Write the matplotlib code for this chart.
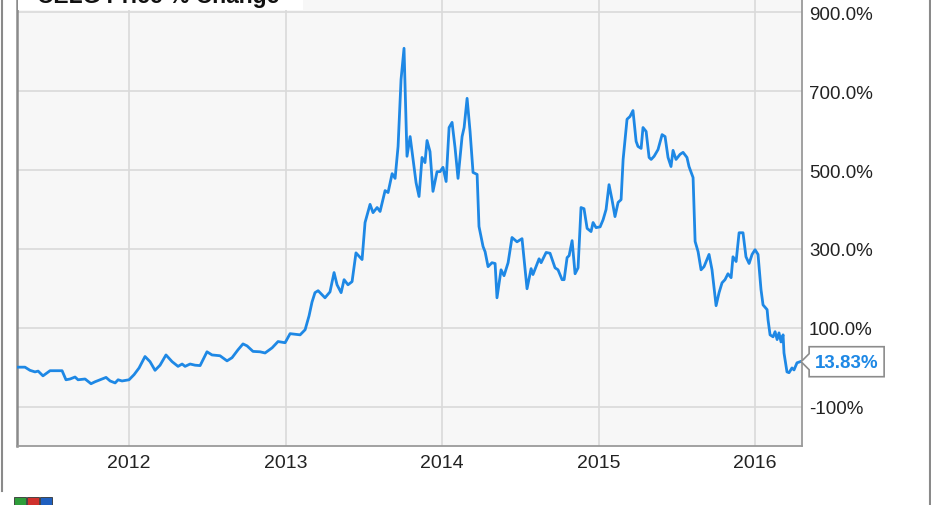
import matplotlib
matplotlib.use("Agg")
import matplotlib.pyplot as plt
from matplotlib.patches import Polygon, Rectangle
from matplotlib.lines import Line2D

plt.rcParams['font.family'] = ['Liberation Sans', 'DejaVu Sans']

# decimal-year positions and % change values
years = [2011.284, 2011.335, 2011.367, 2011.399, 2011.419, 2011.450, 2011.495, 2011.540, 2011.572, 2011.597,
         2011.623, 2011.655, 2011.674, 2011.719, 2011.757, 2011.783, 2011.815, 2011.853, 2011.879, 2011.911,
         2011.930, 2011.955, 2012.000, 2012.032, 2012.064, 2012.102, 2012.134, 2012.166, 2012.198, 2012.236,
         2012.275, 2012.313, 2012.339, 2012.358, 2012.390, 2012.422, 2012.454, 2012.498, 2012.530, 2012.581,
         2012.626, 2012.658, 2012.696, 2012.728, 2012.754, 2012.792, 2012.837, 2012.869, 2012.914, 2012.952,
         2012.997, 2013.029, 2013.093, 2013.125, 2013.150, 2013.169, 2013.188, 2013.208, 2013.252, 2013.284,
         2013.310, 2013.329, 2013.355, 2013.374, 2013.399, 2013.425, 2013.450, 2013.489, 2013.508, 2013.540,
         2013.559, 2013.585, 2013.604, 2013.636, 2013.655, 2013.681, 2013.700, 2013.719, 2013.738, 2013.757,
         2013.776, 2013.796, 2013.815, 2013.834, 2013.853, 2013.872, 2013.891, 2013.904, 2013.923, 2013.942,
         2013.968, 2013.987, 2014.006, 2014.026, 2014.045, 2014.064, 2014.083, 2014.102, 2014.128, 2014.141,
         2014.160, 2014.179, 2014.198, 2014.224, 2014.236, 2014.262, 2014.275, 2014.294, 2014.319, 2014.339,
         2014.351, 2014.377, 2014.396, 2014.422, 2014.447, 2014.479, 2014.511, 2014.543, 2014.569, 2014.581,
         2014.620, 2014.633, 2014.665, 2014.690, 2014.722, 2014.741, 2014.767, 2014.780, 2014.799, 2014.812,
         2014.831, 2014.850, 2014.869, 2014.888, 2014.907, 2014.927, 2014.952, 2014.965, 2014.984, 2015.010,
         2015.029, 2015.048, 2015.067, 2015.086, 2015.105, 2015.125, 2015.144, 2015.157, 2015.182, 2015.201,
         2015.220, 2015.240, 2015.252, 2015.272, 2015.284, 2015.304, 2015.323, 2015.336, 2015.355, 2015.380,
         2015.406, 2015.425, 2015.444, 2015.463, 2015.476, 2015.495, 2015.521, 2015.540, 2015.565, 2015.578,
         2015.604, 2015.617, 2015.636, 2015.655, 2015.674, 2015.693, 2015.706, 2015.725, 2015.751, 2015.770,
         2015.789, 2015.808, 2015.827, 2015.847, 2015.859, 2015.879, 2015.898, 2015.923, 2015.942, 2015.962,
         2015.981, 2016.000, 2016.019, 2016.038, 2016.051, 2016.077, 2016.083, 2016.096, 2016.115, 2016.128,
         2016.141, 2016.153, 2016.166, 2016.179, 2016.185, 2016.204, 2016.217, 2016.236, 2016.249, 2016.268,
         2016.288]
pct_change = [0, 0, -8, -12, -10, -22, -9, -9, -9, -32,
              -30, -25, -32, -30, -42, -37, -32, -26, -35, -40,
              -32, -35, -32, -19, -2, 27, 14, -8, 5, 31,
              14, 2, 8, 2, 8, 5, 4, 39, 31, 29,
              16, 24, 44, 59, 54, 40, 39, 36, 49, 65,
              62, 85, 82, 95, 130, 165, 189, 194, 176, 191,
              240, 209, 189, 222, 209, 217, 290, 273, 367, 413,
              392, 405, 395, 448, 443, 491, 479, 560, 730, 809,
              535, 585, 527, 468, 433, 532, 519, 575, 547, 446,
              496, 496, 507, 471, 608, 621, 557, 479, 585, 608,
              682, 598, 494, 489, 357, 306, 293, 255, 265, 263,
              176, 247, 232, 265, 329, 318, 326, 199, 250, 235,
              275, 265, 291, 289, 252, 247, 222, 222, 278, 283,
              321, 237, 252, 405, 402, 352, 344, 367, 354, 356,
              374, 400, 463, 425, 382, 418, 425, 527, 629, 636,
              651, 573, 560, 555, 608, 598, 532, 527, 535, 552,
              590, 585, 532, 509, 550, 527, 540, 545, 532, 509,
              481, 319, 293, 247, 255, 273, 286, 247, 156, 189,
              214, 222, 237, 227, 280, 268, 341, 341, 280, 263,
              286, 298, 286, 197, 158, 146, 120, 82, 77, 90,
              70, 87, 64, 82, 36, -12, -14, -2, -7, 11,
              13.83]

x_ticks = [2012, 2013, 2014, 2015, 2016]
x_tick_labels = ['2012', '2013', '2014', '2015', '2016']
y_ticks = [-100, 100, 300, 500, 700, 900]
y_tick_labels = ['-100%', '100.0%', '300.0%', '500.0%', '700.0%', '900.0%']
title = 'CELG Price % Change'
last_label = '13.83%'

W, H = 931, 506
fig = plt.figure(figsize=(W / 100, H / 100), dpi=100)
fig.patch.set_facecolor('white')

# axes extends above the top of the figure (clipped like the reference)
ax_left, ax_right = 17, 802
ax_bottom = 447
ax_top = -26
ax = fig.add_axes([ax_left / W, 1 - ax_bottom / H, (ax_right - ax_left) / W, (ax_bottom - ax_top) / H])
ax.set_facecolor('#f7f7f7')

line_color = '#1e88e5'
ax.plot(years, pct_change, color=line_color, lw=2.0, solid_joinstyle='round', zorder=3)

ax.set_xlim(2011.284, 2016.300)
ax.set_ylim(-200, 1000)

ax.set_xticks(x_ticks)
ax.set_xticklabels(x_tick_labels)
ax.set_yticks(y_ticks)
ax.set_yticklabels(y_tick_labels)
ax.yaxis.tick_right()
ax.tick_params(axis='both', length=0, colors='#222222')
ax.tick_params(axis='y', labelsize=13.5, pad=5)
ax.tick_params(axis='x', labelsize=14, pad=6)
ax.grid(True, color='#dadada', lw=1.2, zorder=0)
ax.set_axisbelow(True)

ax.spines['top'].set_visible(False)
ax.spines['left'].set_color('#8a8a8a')
ax.spines['left'].set_linewidth(1.8)
ax.spines['bottom'].set_color('#9a9a9a')
ax.spines['bottom'].set_linewidth(1.3)
ax.spines['right'].set_color('#9a9a9a')
ax.spines['right'].set_linewidth(1.3)

# title box (partly clipped at the top edge)
fig.add_artist(Rectangle((18 / W, 1 - 11 / H), 285 / W, 20 / H, transform=fig.transFigure,
                         facecolor='white', edgecolor='none', zorder=5))
fig.text(37 / W, 1 - 3 / H, title, fontsize=16.5, fontweight='bold', color='#111111',
         ha='left', va='baseline', zorder=6)

# last value callout
fig.canvas.draw()
tip_x, tip_y = ax.transData.transform((years[-1], pct_change[-1]))
tip_y_top = H - tip_y  # pixel from top
tx = tip_x + 9
box_w, box_h = 75, 30
pts = [(tip_x + 1, tip_y_top), (tx, tip_y_top - 8), (tx, tip_y_top - box_h / 2),
       (tx + box_w, tip_y_top - box_h / 2), (tx + box_w, tip_y_top + box_h / 2),
       (tx, tip_y_top + box_h / 2), (tx, tip_y_top + 8)]
pts_fig = [(px / W, 1 - py / H) for px, py in pts]
fig.add_artist(Polygon(pts_fig, closed=True, transform=fig.transFigure, facecolor='white',
                       edgecolor='#8c8c8c', lw=1.2, zorder=7))
fig.text((tx + box_w / 2) / W, 1 - (tip_y_top + 1) / H, last_label, fontsize=13.5, fontweight='bold',
         color=line_color, ha='center', va='center', zorder=8)

# outer frame lines
fig.add_artist(Line2D([1.5 / W, 1.5 / W], [1, 1 - 492 / H], transform=fig.transFigure, color='#8a8a8a', lw=1.5))
fig.add_artist(Line2D([929.5 / W, 929.5 / W], [1, 0], transform=fig.transFigure, color='#8a8a8a', lw=1.5))

# small logo mark at bottom-left
for i, c in enumerate(['#2e9d3a', '#d0312d', '#1f5fbf']):
    fig.add_artist(Rectangle(((14 + i * 13) / W, 0), 12 / W, 8 / H, transform=fig.transFigure,
                             facecolor=c, edgecolor='#333333', lw=0.6))

fig.savefig('out.png', dpi=100)
